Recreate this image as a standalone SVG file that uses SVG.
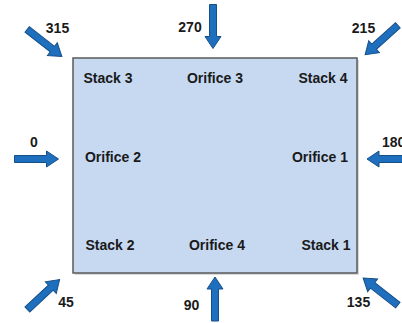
<svg xmlns="http://www.w3.org/2000/svg" width="402" height="323" viewBox="0 0 402 323">
  <defs>
    <style>
      .lbl { font-family: "Liberation Sans", Arial, sans-serif; font-weight: bold; font-size: 14px; fill: #1a1a1a; text-anchor: middle; }
      .arr { fill: #1f6fbf; stroke: #164f86; stroke-width: 1; }
    </style>
    <path id="ar" d="M-22,-3.5 H10 V-8 L22,0 L10,8 V3.5 H-22 Z"/>
  </defs>
  <rect width="402" height="323" fill="#ffffff"/>
  <g id="plate">
    <rect x="75" y="60" width="284" height="215" fill="#bfbfbf" opacity="0.6"/>
    <rect x="73" y="58" width="284" height="215" fill="#c6d9f1" stroke="#5a5a5a" stroke-width="1.5"/>
  </g>
  <g id="stack3"><text class="lbl" x="108" y="83">Stack 3</text></g>
  <g id="orifice3"><text class="lbl" x="215" y="83">Orifice 3</text></g>
  <g id="stack4"><text class="lbl" x="323" y="83">Stack 4</text></g>
  <g id="orifice2"><text class="lbl" x="113" y="162">Orifice 2</text></g>
  <g id="orifice1"><text class="lbl" x="320" y="162">Orifice 1</text></g>
  <g id="stack2"><text class="lbl" x="110" y="250">Stack 2</text></g>
  <g id="orifice4"><text class="lbl" x="217" y="250">Orifice 4</text></g>
  <g id="stack1"><text class="lbl" x="326" y="250">Stack 1</text></g>
  <g id="connectors">
    <use href="#ar" class="arr" transform="translate(36.5,159)"/>
    <use href="#ar" class="arr" transform="translate(389,159) rotate(180)"/>
    <use href="#ar" class="arr" transform="translate(213,26.5) rotate(90)"/>
    <use href="#ar" class="arr" transform="translate(215,299) rotate(-90)"/>
    <use href="#ar" class="arr" transform="translate(44.5,43) rotate(38)"/>
    <use href="#ar" class="arr" transform="translate(381.5,40) rotate(138)"/>
    <use href="#ar" class="arr" transform="translate(43.5,294.5) rotate(-43)"/>
    <use href="#ar" class="arr" transform="translate(380.5,291.5) rotate(-142)"/>
  </g>
  <g id="angles">
    <text class="lbl" x="57.5" y="33">315</text>
    <text class="lbl" x="363.5" y="33">215</text>
    <text class="lbl" x="190" y="32">270</text>
    <text class="lbl" x="34" y="147">0</text>
    <text class="lbl" x="382" y="147" style="text-anchor:start">180</text>
    <text class="lbl" x="66" y="307">45</text>
    <text class="lbl" x="358.5" y="307">135</text>
    <text class="lbl" x="191.5" y="310">90</text>
  </g>
</svg>
